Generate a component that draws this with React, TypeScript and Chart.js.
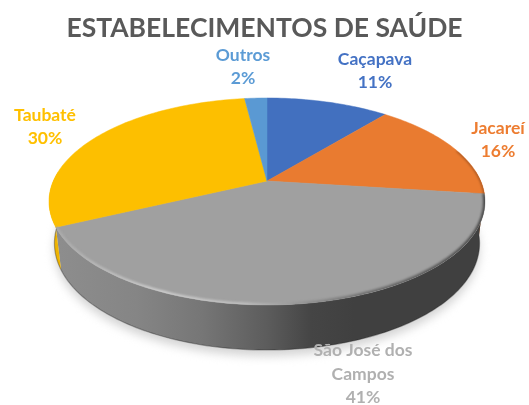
import React, { useEffect, useRef } from "react";
import { Chart, registerables } from "chart.js";

Chart.register(...registerables);

const categories = ["Caçapava", "Jacareí", "São José dos Campos", "Taubaté", "Outros"];
const shares = [11, 16, 41, 30, 2];
const sliceColors = ["#4270bf", "#e97b30", "#a0a0a0", "#fdbf00", "#5a99d3"];
const labelColors = ["#4472c4", "#ed7d31", "#b0b0b0", "#ffc000", "#5b9bd5"];
const sideColors = ["#2f5290", "#a8561f", "#707070", "#efb400", "#3f76a8"];
const titleText = "ESTABELECIMENTOS DE SAÚDE";

// Perspective projection of the pie's disc on the canvas
const CX = 267, CY = 181, A = 213.7, K = 63.6, G = -0.198;
const project = (angle: number, depth = 0) => {
  const u = Math.cos(angle), s = Math.sin(angle);
  const w = 1 + G * s;
  const scale = 1 - depth * 0.025;
  return {
    x: CX + (A * u * scale) / w,
    y: (CY + K * s * scale) / w + depth * (41 + 6 * s),
  };
};

const arcPoints = (a0: number, a1: number, depth = 0) => {
  const n = Math.max(2, Math.ceil(Math.abs(a1 - a0) / 0.02));
  const pts = [];
  for (let i = 0; i <= n; i++) pts.push(project(a0 + ((a1 - a0) * i) / n, depth));
  return pts;
};

const trace = (ctx: CanvasRenderingContext2D, pts: { x: number; y: number }[], close = true) => {
  ctx.beginPath();
  pts.forEach((p, i) => (i ? ctx.lineTo(p.x, p.y) : ctx.moveTo(p.x, p.y)));
  if (close) ctx.closePath();
};

const labelLayout = [
  { x: 375, y: 59 },
  { x: 498, y: 128 },
  { x: 363, y: 350.5 },
  { x: 45, y: 115 },
  { x: 243, y: 55 },
];

const pie3d = {
  id: "pie3d",
  beforeDatasetDraw(chart: any) {
    const ctx: CanvasRenderingContext2D = chart.ctx;
    const arcs = chart.getDatasetMeta(0).data;
    ctx.save();

    // soft ground shadow
    ctx.filter = "blur(5px)";
    ctx.fillStyle = "#d4d4d4";
    const ground = arcPoints(0, Math.PI * 2, 1).map((p) => ({ x: p.x, y: p.y + 6 }));
    trace(ctx, ground);
    ctx.fill();
    ctx.filter = "none";

    // side wall
    const lo = -0.1, hi = Math.PI + 0.1;
    arcs.forEach((arc: any, i: number) => {
      const start = Math.max(arc.startAngle, lo);
      const end = Math.min(arc.endAngle, hi);
      if (end <= start) return;
      const top = arcPoints(start, end, 0);
      const bottom = arcPoints(end, start, 1);
      if (categories[i] === "São José dos Campos") {
        const g = ctx.createLinearGradient(50, 0, 485, 0);
        g.addColorStop(0, "#8e8e8e");
        g.addColorStop(0.2, "#858585");
        g.addColorStop(0.35, "#767676");
        g.addColorStop(0.5, "#5c5c5c");
        g.addColorStop(0.6, "#454545");
        g.addColorStop(0.7, "#404040");
        g.addColorStop(1, "#404040");
        ctx.fillStyle = g;
      } else {
        ctx.fillStyle = sideColors[i];
      }
      trace(ctx, [...top, ...bottom]);
      ctx.fill();
      trace(ctx, arcPoints(start, end, 1), false);
      ctx.strokeStyle = "rgba(30,30,30,0.35)";
      ctx.lineWidth = 1.2;
      ctx.stroke();
    });

    // top faces, angles come from the library's arc elements
    arcs.forEach((arc: any, i: number) => {
      const pts = [{ x: CX, y: CY }, ...arcPoints(arc.startAngle, arc.endAngle, 0)];
      trace(ctx, pts);
      ctx.fillStyle = sliceColors[i];
      ctx.fill();
      ctx.strokeStyle = sliceColors[i];
      ctx.lineWidth = 0.5;
      ctx.stroke();
    });

    // bevel along the front rim
    ctx.save();
    trace(ctx, arcPoints(0, Math.PI * 2, 0));
    ctx.clip();
    ctx.filter = "blur(1px)";
    const rim = ctx.createLinearGradient(50, 0, 485, 0);
    rim.addColorStop(0, "#a8a8a8");
    rim.addColorStop(0.25, "#cdcdcd");
    rim.addColorStop(0.45, "#bdbdbd");
    rim.addColorStop(0.55, "#9c9c9c");
    rim.addColorStop(0.72, "#6e6e6e");
    rim.addColorStop(1, "#4a4a4a");
    const gray = arcs[2];
    trace(ctx, arcPoints(gray.startAngle, gray.endAngle, 0), false);
    ctx.strokeStyle = rim;
    ctx.lineWidth = 4;
    ctx.stroke();
    const orange = arcs[1];
    trace(ctx, arcPoints(orange.startAngle + 0.55, orange.endAngle, 0), false);
    ctx.strokeStyle = "rgba(110,55,20,0.6)";
    ctx.lineWidth = 2;
    ctx.stroke();
    ctx.restore();

    ctx.restore();
    return false;
  },
  afterDraw(chart: any) {
    const ctx: CanvasRenderingContext2D = chart.ctx;
    ctx.save();
    ctx.font = "bold 17.5px Lato";
    ctx.textAlign = "center";
    ctx.textBaseline = "middle";
    categories.forEach((name, i) => {
      const lines: string[] = [];
      let line = "";
      name.split(" ").forEach((word) => {
        const next = line ? line + " " + word : word;
        if (ctx.measureText(next).width > 125 && line) {
          lines.push(line);
          line = word;
        } else line = next;
      });
      lines.push(line, shares[i] + "%");
      ctx.fillStyle = labelColors[i];
      lines.forEach((t, j) => ctx.fillText(t, labelLayout[i].x, labelLayout[i].y + j * 23.5));
    });
    ctx.restore();
  },
};

export default function App() {
  const ref = useRef<HTMLCanvasElement>(null);
  useEffect(() => {
    document.body.style.margin = "0";
    document.body.style.background = "#ffffff";
    const chart = new Chart(ref.current!, {
      type: "pie",
      data: {
        labels: categories,
        datasets: [{ data: shares, backgroundColor: sliceColors, borderWidth: 0 }],
      },
      options: {
        responsive: false,
        animation: false,
        plugins: {
          legend: { display: false },
          tooltip: { enabled: false },
          title: {
            display: true,
            text: titleText,
            color: "#595959",
            font: { family: "Lato", size: 26.5, weight: "bold" },
            padding: { top: 13, bottom: 8 },
          },
        },
      },
      plugins: [pie3d],
    } as any);
    return () => chart.destroy();
  }, []);
  return (
    <div style={{ position: "absolute", left: 0, top: 0, width: 529, height: 405, overflow: "hidden" }}>
      <canvas ref={ref} width={529} height={405} style={{ display: "block" }} />
    </div>
  );
}
